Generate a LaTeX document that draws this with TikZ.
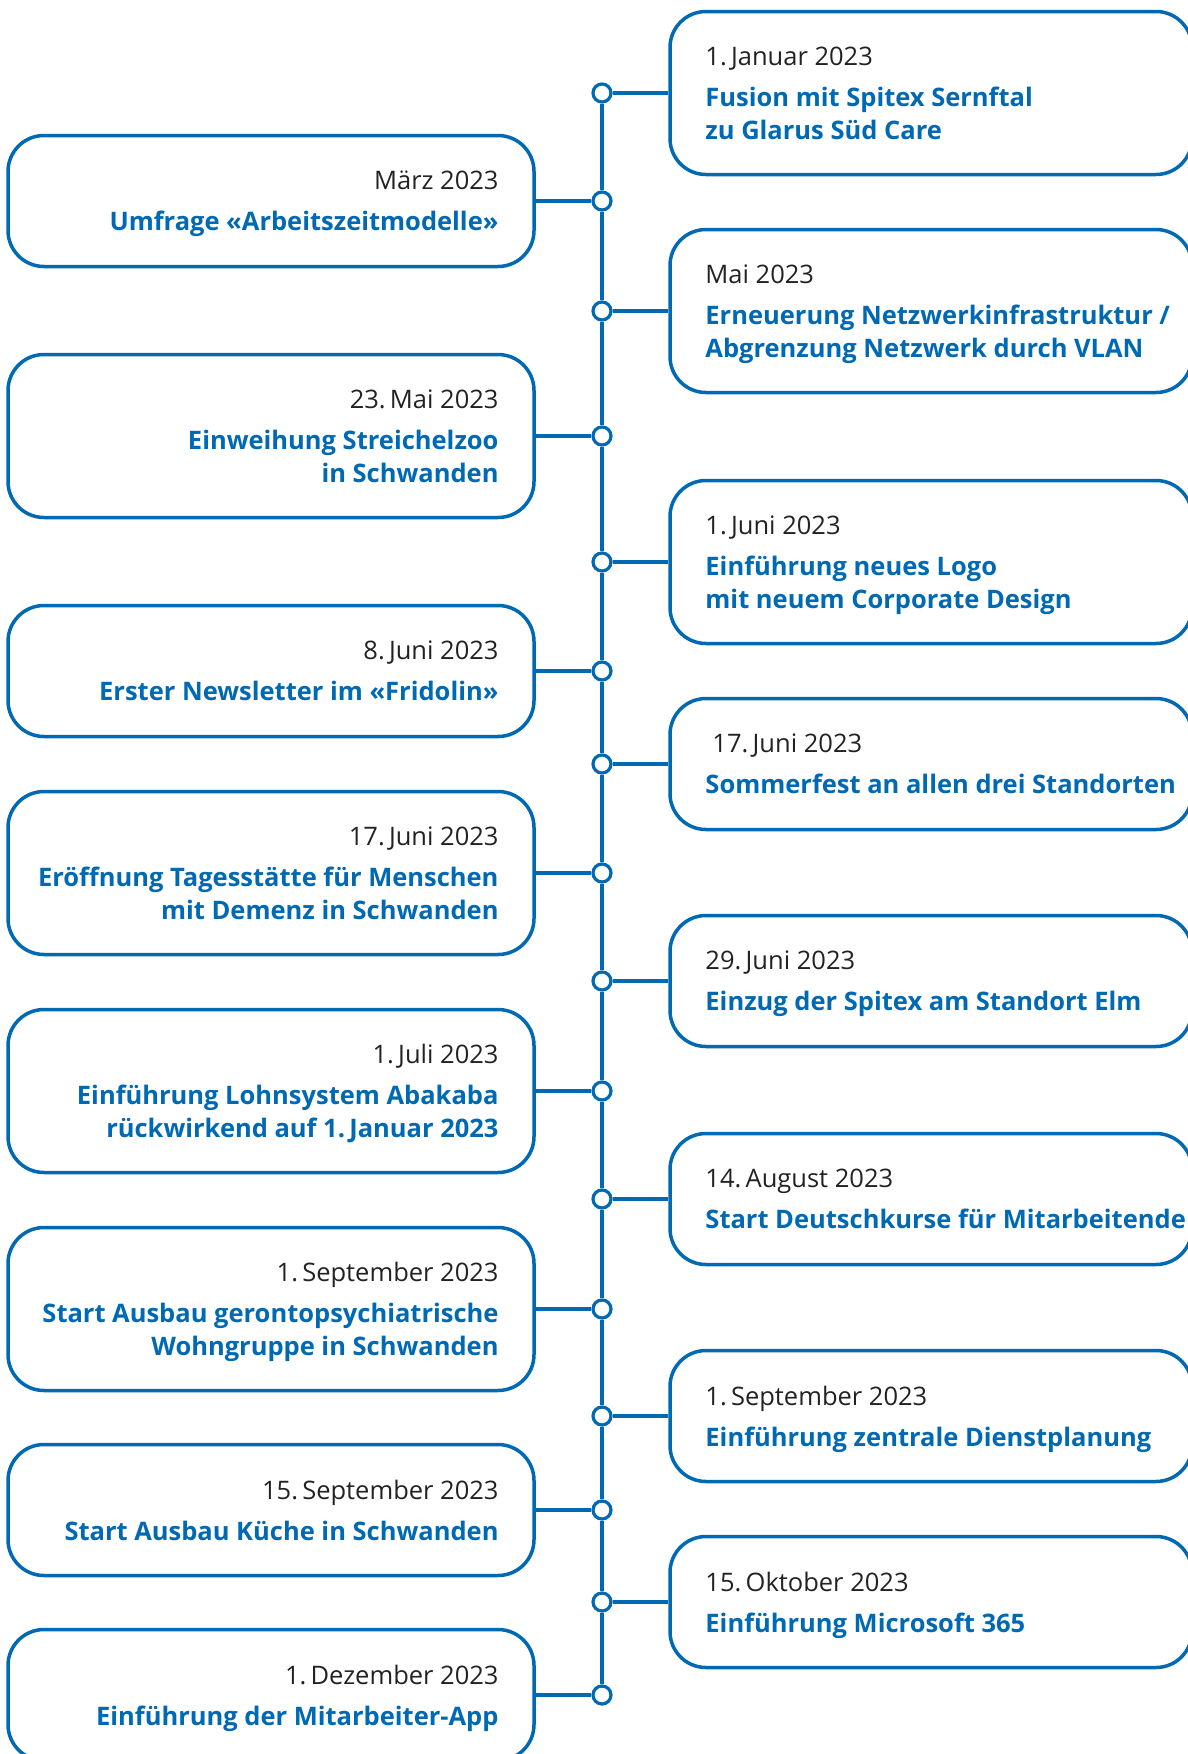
\documentclass[tikz,border=0pt]{standalone}
\usepackage{fontspec}
\setmainfont{Open Sans}
\usetikzlibrary{positioning}

\definecolor{gsblue}{RGB}{0,105,180}
\definecolor{gsdark}{RGB}{34,34,34}

\tikzset{
  evbox/.style={draw=gsblue, line width=3.5pt, rounded corners=36pt, inner sep=0pt},
  rbox/.style={evbox, minimum width=522pt},
  lbox/.style={evbox, minimum width=526pt},
  tall/.style={minimum height=163pt},
  short/.style={minimum height=131pt},
  dot/.style={circle, draw=gsblue, fill=white, line width=3.2pt, minimum size=18pt, inner sep=0pt},
  link/.style={draw=gsblue, line width=3.2pt},
  evtxt/.style={inner sep=0pt, text=gsblue, yshift=-3pt,
    font=\fontsize{25.5}{33}\selectfont\bfseries,
    execute at end node={\vphantom{g}}},
  rtxt/.style={evtxt, align=left},
  ltxt/.style={evtxt, align=right},
}
\newcommand{\evdate}[1]{{\color{gsdark}\mdseries\fontsize{25.5}{33}\selectfont #1}}

\begin{document}
\begin{tikzpicture}[x=1pt, y=-1pt]
\useasboundingbox (0,0) rectangle (1188,1754);

% Dots on the time line
\node[dot] (c1) at (602,93) {};
\node[dot] (c2) at (602,201) {};
\node[dot] (c3) at (602,311) {};
\node[dot] (c4) at (602,436) {};
\node[dot] (c5) at (602,562) {};
\node[dot] (c6) at (602,671) {};
\node[dot] (c7) at (602,764) {};
\node[dot] (c8) at (602,873) {};
\node[dot] (c9) at (602,981) {};
\node[dot] (c10) at (602,1091) {};
\node[dot] (c11) at (602,1199) {};
\node[dot] (c12) at (602,1309) {};
\node[dot] (c13) at (602,1416) {};
\node[dot] (c14) at (602,1510) {};
\node[dot] (c15) at (602,1602) {};
\node[dot] (c16) at (602,1695) {};

% Time line
\foreach \i [evaluate=\i as \j using int(\i+1)] in {1,...,15}
  \draw[link] (c\i) -- (c\j);

% Right column
\node[rbox, tall] (jan) at (931,93) {};
\node[rtxt, right=37pt of jan.west] (jan-t) {\evdate{1.\,Januar 2023}\\[8pt] Fusion mit Spitex Sernftal\\ zu Glarus Süd Care};
\node[rbox, tall] (mai) at (931,311) {};
\node[rtxt, right=37pt of mai.west] (mai-t) {\evdate{Mai 2023}\\[8pt] Erneuerung Netzwerkinfrastruktur /\\ Abgrenzung Netzwerk durch VLAN};
\node[rbox, tall] (logo) at (931,562) {};
\node[rtxt, right=37pt of logo.west] (logo-t) {\evdate{1.\,Juni 2023}\\[8pt] Einführung neues Logo\\ mit neuem Corporate Design};
\node[rbox, short] (fest) at (931,764) {};
\node[rtxt, right=37pt of fest.west] (fest-t) {\evdate{\hspace*{7pt}17.\,Juni 2023}\\[8pt] Sommerfest an allen drei Standorten};
\node[rbox, short] (elm) at (931,981) {};
\node[rtxt, right=37pt of elm.west] (elm-t) {\evdate{29.\,Juni 2023}\\[8pt] Einzug der Spitex am Standort Elm};
\node[rbox, short] (kurs) at (931,1199) {};
\node[rtxt, right=37pt of kurs.west] (kurs-t) {\evdate{14.\,August 2023}\\[8pt] Start Deutschkurse für Mitarbeitende};
\node[rbox, short] (plan) at (931,1416) {};
\node[rtxt, right=37pt of plan.west] (plan-t) {\evdate{1.\,September 2023}\\[8pt] Einführung zentrale Dienstplanung};
\node[rbox, short] (ms) at (931,1602) {};
\node[rtxt, right=37pt of ms.west] (ms-t) {\evdate{15.\,Oktober 2023}\\[8pt] Einführung Microsoft 365};

% Left column
\node[lbox, short] (umfrage) at (271,201) {};
\node[ltxt, left=37pt of umfrage.east] (umfrage-t) {\evdate{März 2023}\\[8pt] Umfrage «Arbeitszeitmodelle»};
\node[lbox, tall] (zoo) at (271,436) {};
\node[ltxt, left=37pt of zoo.east] (zoo-t) {\evdate{23.\,Mai 2023}\\[8pt] Einweihung Streichelzoo\\ in Schwanden};
\node[lbox, short] (news) at (271,671) {};
\node[ltxt, left=37pt of news.east] (news-t) {\evdate{8.\,Juni 2023}\\[8pt] Erster Newsletter im «Fridolin»};
\node[lbox, tall] (tag) at (271,873) {};
\node[ltxt, left=37pt of tag.east] (tag-t) {\evdate{17.\,Juni 2023}\\[8pt] Eröffnung Tagesstätte für Menschen\\ mit Demenz in Schwanden};
\node[lbox, tall] (lohn) at (271,1091) {};
\node[ltxt, left=37pt of lohn.east] (lohn-t) {\evdate{1.\,Juli 2023}\\[8pt] Einführung Lohnsystem Abakaba\\ rückwirkend auf 1.\,Januar 2023};
\node[lbox, tall] (wohn) at (271,1309) {};
\node[ltxt, left=37pt of wohn.east] (wohn-t) {\evdate{1.\,September 2023}\\[8pt] Start Ausbau gerontopsychiatrische\\ Wohngruppe in Schwanden};
\node[lbox, short] (kueche) at (271,1510) {};
\node[ltxt, left=37pt of kueche.east] (kueche-t) {\evdate{15.\,September 2023}\\[8pt] Start Ausbau Küche in Schwanden};
\node[lbox, short] (app) at (271,1695) {};
\node[ltxt, left=37pt of app.east] (app-t) {\evdate{1.\,Dezember 2023}\\[8pt] Einführung der Mitarbeiter-App};

% Connectors
\draw[link] (c1) -- (jan);
\draw[link] (c2) -- (umfrage);
\draw[link] (c3) -- (mai);
\draw[link] (c4) -- (zoo);
\draw[link] (c5) -- (logo);
\draw[link] (c6) -- (news);
\draw[link] (c7) -- (fest);
\draw[link] (c8) -- (tag);
\draw[link] (c9) -- (elm);
\draw[link] (c10) -- (lohn);
\draw[link] (c11) -- (kurs);
\draw[link] (c12) -- (wohn);
\draw[link] (c13) -- (plan);
\draw[link] (c14) -- (kueche);
\draw[link] (c15) -- (ms);
\draw[link] (c16) -- (app);

\end{tikzpicture}
\end{document}
